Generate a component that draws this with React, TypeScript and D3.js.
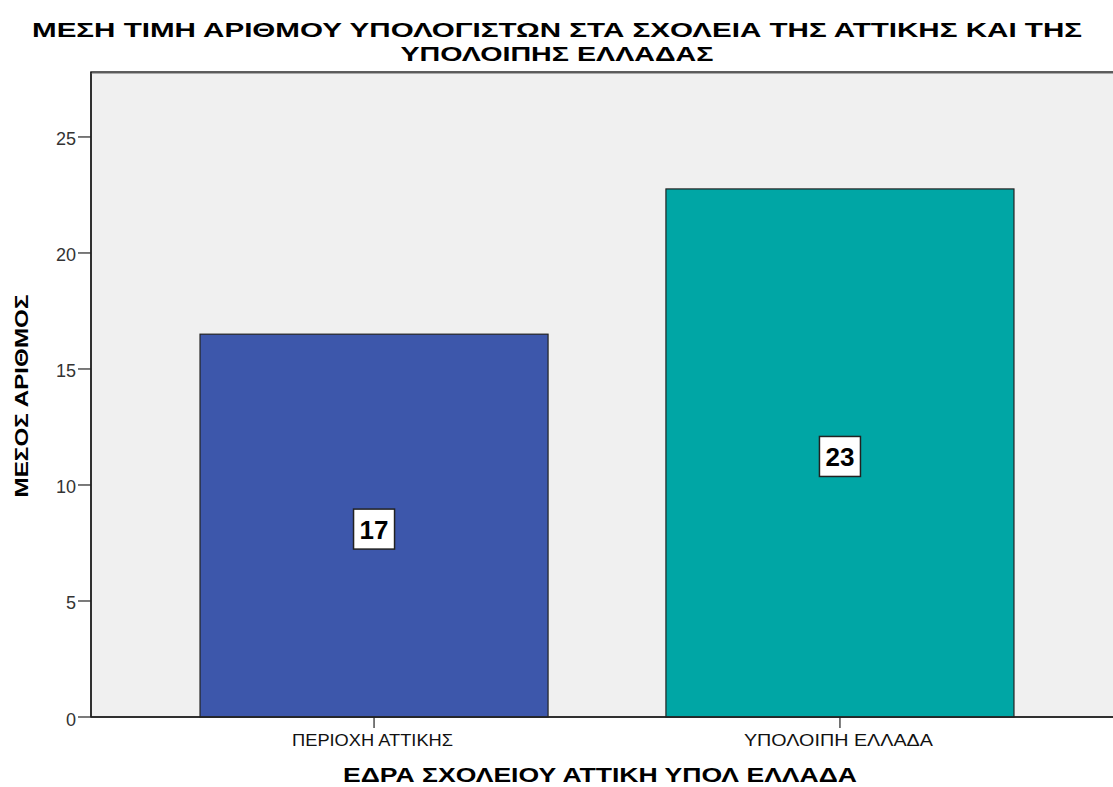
import React from "react";
import * as d3 from "d3";

const categories = ["ΠΕΡΙΟΧΗ ΑΤΤΙΚΗΣ", "ΥΠΟΛΟΙΠΗ ΕΛΛΑΔΑ"];
const values = [16.5, 22.76];
const labels = ["17", "23"];
const yTicks = [0, 5, 10, 15, 20, 25];
const colors = ["#3D57AB", "#00A6A5"];
const titleLines = [
  "ΜΕΣΗ ΤΙΜΗ ΑΡΙΘΜΟΥ ΥΠΟΛΟΓΙΣΤΩΝ ΣΤΑ ΣΧΟΛΕΙΑ ΤΗΣ ΑΤΤΙΚΗΣ ΚΑΙ ΤΗΣ",
  "ΥΠΟΛΟΙΠΗΣ ΕΛΛΑΔΑΣ",
];
const titleWidths = [1050, 313];
const catLabelWidths = [161, 189];
const xTitle = "ΕΔΡΑ ΣΧΟΛΕΙΟΥ ΑΤΤΙΚΗ ΥΠΟΛ ΕΛΛΑΔΑ";
const yTitle = "ΜΕΣΟΣ ΑΡΙΘΜΟΣ";

const W = 1113;
const H = 787;
const left = 91;
const right = 1123;
const top = 72;
const bottom = 717;

export default function App() {
  const x = d3
    .scaleBand<string>()
    .domain(categories)
    .range([left, right])
    .paddingInner(0.253)
    .paddingOuter(0.234);
  const y = d3.scaleLinear().domain([0, 27.8]).range([bottom, top]);
  const font = "Arial, 'Liberation Sans', sans-serif";
  return (
    <svg
      width={W}
      height={H}
      style={{ position: "absolute", left: 0, top: 0 }}
      fontFamily={font}
    >
      <rect x={0} y={0} width={W} height={H} fill="#fff" />
      {titleLines.map((t, i) => (
        <text
          key={i}
          x={557}
          y={37 + i * 24}
          textAnchor="middle"
          fontSize={21}
          fontWeight="bold"
          fill="#000"
          textLength={titleWidths[i]}
          lengthAdjust="spacingAndGlyphs"
        >
          {t}
        </text>
      ))}
      <rect
        x={left}
        y={top}
        width={right - left}
        height={bottom - top}
        fill="#F0F0F0"
        stroke="#2a2a2a"
        strokeWidth={1.5}
      />
      <line x1={left} x2={right} y1={top + 1.5} y2={top + 1.5} stroke="#aaa" strokeWidth={1} />
      {categories.map((c, i) => (
        <rect
          key={c}
          x={x(c)}
          y={y(values[i])}
          width={x.bandwidth()}
          height={y(0) - y(values[i])}
          fill={colors[i]}
          stroke="#222"
          strokeWidth={1.2}
        />
      ))}
      {categories.map((c, i) => {
        const cx = (x(c) as number) + x.bandwidth() / 2;
        const cy = (y(values[i]) + y(0)) / 2 + 3.5;
        return (
          <g key={c + "l"}>
            <rect
              x={cx - 20.5}
              y={cy - 20}
              width={41}
              height={40}
              fill="#fff"
              stroke="#222"
              strokeWidth={1.5}
            />
            <text
              x={cx}
              y={cy + 9.5}
              textAnchor="middle"
              fontSize={26}
              fontWeight="bold"
              fill="#000"
            >
              {labels[i]}
            </text>
          </g>
        );
      })}
      <line x1={left} x2={left} y1={top} y2={bottom} stroke="#222" strokeWidth={1.5} />
      <line x1={left} x2={right} y1={bottom} y2={bottom} stroke="#222" strokeWidth={1.5} />
      {yTicks.map((t) => (
        <g key={t}>
          <line x1={left - 13} x2={left} y1={y(t)} y2={y(t)} stroke="#222" strokeWidth={1.2} />
          <text
            x={left - 15}
            y={y(t) + 8.5}
            textAnchor="end"
            fontSize={18}
            fill="#333"
          >
            {t}
          </text>
        </g>
      ))}
      {categories.map((c, i) => {
        const cx = (x(c) as number) + x.bandwidth() / 2;
        return (
          <g key={c + "t"}>
            <line x1={cx} x2={cx} y1={bottom} y2={bottom + 11} stroke="#222" strokeWidth={1.2} />
            <text
              x={cx - 1.5}
              y={745.5}
              textAnchor="middle"
              fontSize={17}
              fill="#111"
              textLength={catLabelWidths[i]}
              lengthAdjust="spacingAndGlyphs"
            >
              {c}
            </text>
          </g>
        );
      })}
      <text
        x={600}
        y={782}
        textAnchor="middle"
        fontSize={21}
        fontWeight="bold"
        fill="#000"
        textLength={514}
        lengthAdjust="spacingAndGlyphs"
      >
        {xTitle}
      </text>
      <text
        transform={`translate(28, 396) rotate(-90)`}
        textAnchor="middle"
        fontSize={19}
        fontWeight="bold"
        fill="#000"
        textLength={203}
        lengthAdjust="spacingAndGlyphs"
      >
        {yTitle}
      </text>
    </svg>
  );
}
